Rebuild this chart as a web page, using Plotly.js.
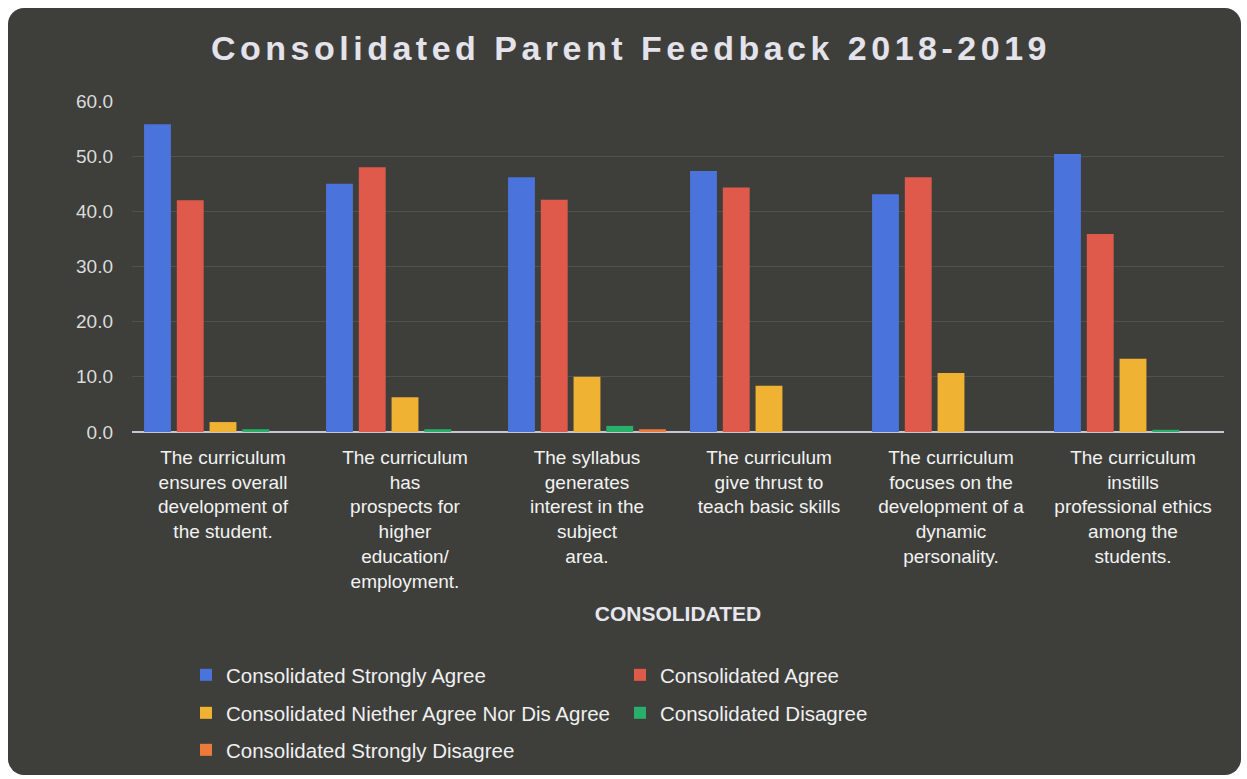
<!DOCTYPE html>
<html>
<head>
<meta charset="utf-8">
<script src="https://cdn.plot.ly/plotly-3.0.1.min.js"></script>
<style>
  html, body { margin: 0; padding: 0; background: #ffffff; }
  #bg { position: absolute; left: 8px; top: 8px; width: 1233px; height: 767px;
        background: #3e3f3b; border-radius: 16px; }
  #chart { position: absolute; left: 0; top: 0; width: 1247px; height: 779px; }
  .gtitle { letter-spacing: 4.5px; }
</style>
</head>
<body>
<div id="bg"></div>
<div id="chart"></div>
<script>
const categories = [
  "The curriculum<br>ensures overall<br>development of<br>the student.",
  "The curriculum<br>has<br>prospects for<br>higher<br>education/<br>employment.",
  "The syllabus<br>generates<br>interest in the<br>subject<br>area.",
  "The curriculum<br>give thrust to<br>teach basic skills",
  "The curriculum<br>focuses on the<br>development of a<br>dynamic<br>personality.",
  "The curriculum<br>instills<br>professional ethics<br>among the<br>students."
];
const seriesNames = [
  "Consolidated Strongly Agree",
  "Consolidated Agree",
  "Consolidated Niether Agree Nor Dis Agree",
  "Consolidated Disagree",
  "Consolidated Strongly Disagree"
];
const stronglyAgree    = [55.8, 45.0, 46.2, 47.3, 43.1, 50.4];
const agree            = [42.0, 48.0, 42.1, 44.3, 46.2, 35.9];
const neither          = [1.8, 6.3, 10.0, 8.4, 10.7, 13.3];
const disagree         = [0.5, 0.5, 1.1, 0.0, 0.0, 0.4];
const stronglyDisagree = [0.0, 0.0, 0.5, 0.0, 0.0, 0.0];
const yTicks = [0, 10, 20, 30, 40, 50, 60];

const colors = ["#4b73dc", "#df5a4b", "#f0b232", "#28b06a", "#ec7a3a"];
const values = [stronglyAgree, agree, neither, disagree, stronglyDisagree];
const legendIds = ["legend", "legend", "legend2", "legend2", "legend3"];

const FONT = "Liberation Sans, Arial, sans-serif";

const traces = values.map((v, i) => ({
  type: "bar",
  name: seriesNames[i],
  x: categories,
  y: v,
  marker: { color: colors[i] },
  legend: legendIds[i],
  hoverinfo: "none"
}));

function legendAt(yPix) {
  return {
    orientation: "h",
    xref: "container", x: 186 / 1247, xanchor: "left",
    yref: "container", y: 1 - yPix / 779, yanchor: "middle",
    bgcolor: "rgba(0,0,0,0)",
    font: { family: FONT, size: 20.5, color: "#f0f0f0" },
    entrywidth: 389, entrywidthmode: "pixels",
    traceorder: "normal"
  };
}

const layout = {
  width: 1247, height: 779,
  paper_bgcolor: "rgba(0,0,0,0)",
  plot_bgcolor: "rgba(0,0,0,0)",
  margin: { l: 132, r: 23, t: 101, b: 347, autoexpand: false },
  barmode: "group",
  bargap: 0.10,
  bargroupgap: 0.18,
  showlegend: true,
  title: {
    text: "Consolidated Parent Feedback 2018-2019",
    font: { family: FONT, size: 34, color: "#e4e2ea", weight: "bold" },
    x: 0.506, xanchor: "center", xref: "container",
    y: 1 - 48 / 779, yanchor: "middle", yref: "container"
  },
  xaxis: {
    type: "category",
    tickfont: { family: FONT, size: 19, color: "#f2f2f2" },
    ticks: "", ticklabelstandoff: 12,
    showline: false, showgrid: false, zeroline: false,
    automargin: false,
    title: {
      text: "<b>CONSOLIDATED</b>",
      font: { family: FONT, size: 21, color: "#e8e6ef" },
      standoff: 15
    }
  },
  yaxis: {
    range: [0, 60],
    tickvals: yTicks,
    tickformat: ".1f",
    tickfont: { family: FONT, size: 19, color: "#dcdcdc" },
    ticks: "", ticklabelstandoff: 18,
    showgrid: true, gridcolor: "rgba(255,255,255,0.10)", gridwidth: 1,
    zeroline: true, zerolinecolor: "#c9c5d6", zerolinewidth: 2,
    showline: false, automargin: false
  },
  legend: legendAt(675),
  legend2: legendAt(713),
  legend3: legendAt(750)
};

Plotly.newPlot("chart", traces, layout, { staticPlot: true, displayModeBar: false });
</script>
</body>
</html>
